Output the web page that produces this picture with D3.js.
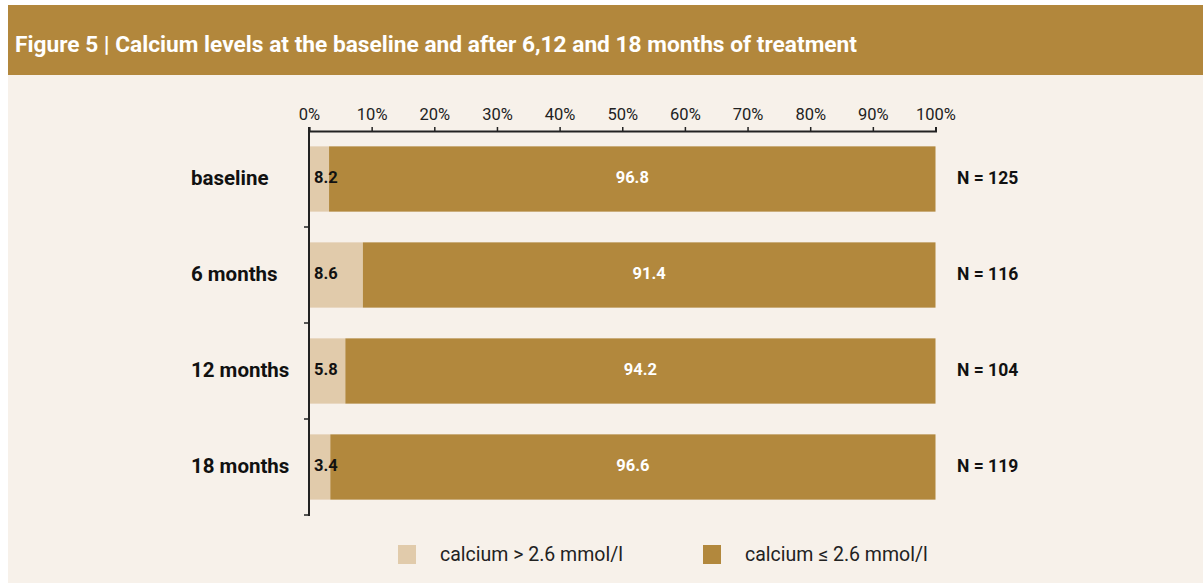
<!DOCTYPE html>
<html>
<head>
<meta charset="utf-8">
<script src="https://cdn.jsdelivr.net/npm/d3@7"></script>
<style>
  html, body { margin: 0; padding: 0; background: #ffffff; }
  svg { display: block; font-family: Roboto, "Noto Sans", sans-serif; }
</style>
</head>
<body>
<svg id="chart" width="1203" height="583"></svg>
<script>
const title = "Figure 5 | Calcium levels at the baseline and after 6,12 and 18 months of treatment";
const categories = ["baseline", "6 months", "12 months", "18 months"];
const highCalcium = [3.2, 8.6, 5.8, 3.4];          // bar lengths
const highCalciumLabels = ["8.2", "8.6", "5.8", "3.4"]; // labels as printed
const normalCalcium = [96.8, 91.4, 94.2, 96.6];
const nLabels = ["N = 125", "N = 116", "N = 104", "N = 119"];
const xTicks = [0, 10, 20, 30, 40, 50, 60, 70, 80, 90, 100];
const seriesNames = ["calcium > 2.6 mmol/l", "calcium \u2264 2.6 mmol/l"];
const colors = ["#e1cbab", "#b2883d"];

const svg = d3.select("#chart");

// panel background and header band
svg.append("rect").attr("x", 8).attr("y", 5).attr("width", 1195).attr("height", 578).attr("fill", "#f7f1ea");
svg.append("rect").attr("x", 8).attr("y", 5).attr("width", 1195).attr("height", 70).attr("fill", "#b2873c");
svg.append("text").attr("x", 15).attr("y", 52)
  .attr("fill", "#ffffff").attr("font-weight", 700).attr("font-size", 22)
  .attr("textLength", 842).attr("lengthAdjust", "spacingAndGlyphs")
  .text(title);

const x = d3.scaleLinear().domain([0, 100]).range([309, 935.5]);
const y = d3.scaleBand().domain(categories).range([131, 515]).paddingInner(0.32).paddingOuter(0.16);

// x axis on top
const xAxis = svg.append("g").attr("transform", "translate(0,131)")
  .call(d3.axisTop(x).tickValues(xTicks).tickFormat(d => d + "%").tickSize(4).tickSizeOuter(4));
xAxis.select(".domain").attr("stroke", "#222").attr("stroke-width", 2);
xAxis.selectAll(".tick line").attr("stroke", "#222").attr("stroke-width", 1.5);
xAxis.selectAll(".tick text").attr("font-size", 16.5).attr("fill", "#222").attr("dy", "-0.25em")
  .attr("font-family", "Roboto, sans-serif");

// bars
const rows = categories.map((c, i) => ({ c, lo: highCalcium[i], hi: normalCalcium[i], lab: highCalciumLabels[i], n: nLabels[i] }));

svg.append("g").selectAll("rect").data(rows).join("rect")
  .attr("x", x(0)).attr("y", d => y(d.c))
  .attr("width", d => x(d.lo) - x(0)).attr("height", y.bandwidth())
  .attr("fill", colors[0]);
svg.append("g").selectAll("rect").data(rows).join("rect")
  .attr("x", d => x(d.lo)).attr("y", d => y(d.c))
  .attr("width", d => x(d.lo + d.hi) - x(d.lo)).attr("height", y.bandwidth())
  .attr("fill", colors[1]);

// y axis line with ticks at band boundaries
const yAxisG = svg.append("g");
yAxisG.append("line").attr("x1", 309).attr("x2", 309).attr("y1", 127).attr("y2", 516)
  .attr("stroke", "#222").attr("stroke-width", 2);
const boundaries = categories.map((c, i) => y(c) + y.bandwidth() + y.step() * y.paddingInner() / 2);
boundaries[boundaries.length - 1] = 515;
yAxisG.selectAll("line.tk").data(boundaries).join("line").attr("class", "tk")
  .attr("x1", 304).attr("x2", 309).attr("y1", d => d).attr("y2", d => d)
  .attr("stroke", "#222").attr("stroke-width", 1.5);

const cy = d => y(d.c) + y.bandwidth() / 2 - 1.5;

// category labels
svg.append("g").selectAll("text").data(rows).join("text")
  .attr("x", 191).attr("y", cy)
  .attr("dy", "0.35em").attr("font-size", 20.5).attr("font-weight", 700).attr("fill", "#111")
  .text(d => d.c);

// value labels
svg.append("g").selectAll("text").data(rows).join("text")
  .attr("x", x(0) + 5).attr("y", cy)
  .attr("dy", "0.35em").attr("font-size", 16.5).attr("font-weight", 700).attr("fill", "#111")
  .text(d => d.lab);
svg.append("g").selectAll("text").data(rows).join("text")
  .attr("x", d => (x(d.lo) + x(d.lo + d.hi)) / 2).attr("y", cy)
  .attr("dy", "0.35em").attr("text-anchor", "middle")
  .attr("font-size", 16.5).attr("font-weight", 700).attr("fill", "#ffffff")
  .text(d => d.hi.toFixed(1));

// N labels
svg.append("g").selectAll("text").data(rows).join("text")
  .attr("x", 957).attr("y", cy)
  .attr("dy", "0.35em").attr("font-size", 17.5).attr("font-weight", 700).attr("fill", "#111")
  .text(d => d.n);

// legend
const legendX = [398, 703];
const lg = svg.append("g").selectAll("g").data(seriesNames).join("g")
  .attr("transform", (d, i) => `translate(${legendX[i]},545)`);
lg.append("rect").attr("width", 18).attr("height", 19).attr("fill", (d, i) => colors[i]);
lg.append("text").attr("x", 42).attr("y", 9).attr("dy", "0.35em")
  .attr("font-size", 19.5).attr("fill", "#222").text(d => d);
</script>
</body>
</html>
